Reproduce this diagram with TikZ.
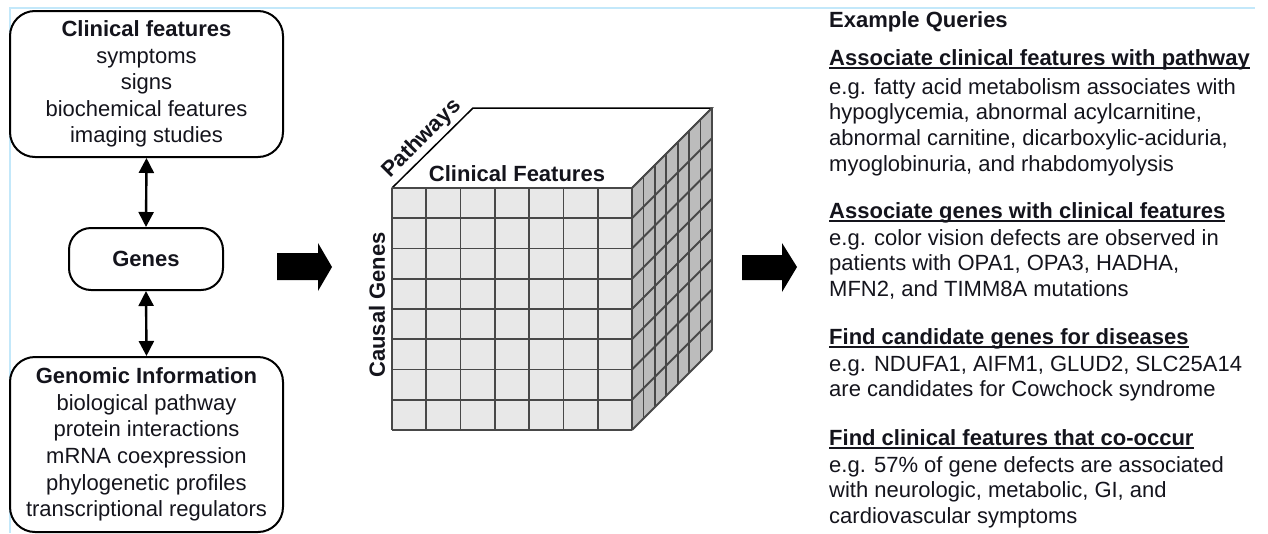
\documentclass[tikz,border=0pt]{standalone}
\usepackage{fontspec}
\setmainfont{Liberation Sans}
\usetikzlibrary{arrows.meta}
\definecolor{frontgray}{RGB}{232,232,232}
\definecolor{sidegray}{RGB}{188,188,188}
\definecolor{gridc}{RGB}{72,72,72}
\definecolor{bluel}{RGB}{195,232,250}
\definecolor{txt}{RGB}{20,20,28}
\newcommand\ulhead[1]{\setbox0\hbox{\bfseries #1}\rlap{\rule[-4pt]{\wd0}{1.7pt}}\box0}
\begin{document}
\begin{tikzpicture}[x=1pt,y=-1pt,
  every node/.style={text=txt},
  roundbox/.style={draw=black, line width=2pt, rounded corners=25pt, align=center,
    font=\fontsize{22}{26.6}\selectfont, inner sep=0pt},
  dbl/.style={line width=2.4pt, {Triangle[length=15pt,width=15pt]}-{Triangle[length=15pt,width=15pt]}},
  gridline/.style={draw=gridc, line width=1.8pt},
  rtext/.style={anchor=base west, align=left, font=\fontsize{22}{25.8}\selectfont, inner sep=0pt},
  cubelabel/.style={font=\fontsize{22}{26}\bfseries\selectfont, inner sep=0pt}
]
\useasboundingbox (0,0) rectangle (1268,533);
% light blue frame lines
\draw[bluel, line width=2.5pt] (10,533) -- (10,8) -- (1255,8);

% left boxes
\node[roundbox, minimum width=273pt, minimum height=146pt] (clin) at (146.5,84)
  {\textbf{Clinical features}\\symptoms\\signs\\biochemical features\\imaging studies};
\node[roundbox, rounded corners=22pt, minimum width=154pt, minimum height=62pt] (genes) at (146,259)
  {\textbf{Genes}};
\node[roundbox, minimum width=273pt, minimum height=175pt] (geno) at (146.5,444.5)
  {\textbf{Genomic Information}\\biological pathway\\protein interactions\\mRNA coexpression\\phylogenetic profiles\\transcriptional regulators};
\draw[dbl] (clin.south) -- (genes.north);
\draw[dbl] (genes.south) -- (geno.north);

% block arrows
\fill[black] (277,253) -- (318,253) -- (318,243) -- (332,267) -- (318,291) -- (318,280) -- (277,280) -- cycle;
\fill[black] (742,255) -- (782,255) -- (782,243) -- (797,267) -- (782,292) -- (782,280) -- (742,280) -- cycle;

% cube: top face
\fill[white] (392,188) -- (473,108) -- (712,108) -- (632,188) -- cycle;
\draw[black, line width=1.5pt, line join=miter] (392,188) -- (473,108) -- (712,108) -- (632,188);
% front face
\fill[frontgray] (392,188) rectangle (632,430);
\foreach \i in {0,...,7} {\draw[gridline] ({392+\i*240/7},188) -- ({392+\i*240/7},430);}
\foreach \j in {0,...,8} {\draw[gridline] (392,{188+\j*242/8}) -- (632,{188+\j*242/8});}
% right face
\fill[sidegray] (632,188) -- (712,108) -- (712,350) -- (632,430) -- cycle;
\foreach \k in {0,...,7} {\draw[gridline] ({632+\k*80/7},{188-\k*80/7}) -- ({632+\k*80/7},{430-\k*80/7});}
\foreach \j in {0,...,8} {\draw[gridline] (632,{188+\j*242/8}) -- (712,{108+\j*242/8});}

\node[cubelabel, rotate=45] (pw) at (422,139) {Pathways};
\node[cubelabel] (cf) at (517,174) {Clinical Features};
\node[cubelabel, rotate=90] (cg) at (377,305) {Causal Genes};

% right text (base anchor = baseline of last line)
\node[rtext] (eq) at (829,27) {\textbf{Example Queries}};
\node[rtext] (h1) at (829,65) {\ulhead{Associate clinical features with pathway}};
\node[rtext] (b1) at (829,171.4) {e.g. fatty acid metabolism associates with\\hypoglycemia, abnormal acylcarnitine,\\abnormal carnitine, dicarboxylic-aciduria,\\myoglobinuria, and rhabdomyolysis};
\node[rtext] (h2) at (829,218) {\ulhead{Associate genes with clinical features}};
\node[rtext] (b2) at (829,296.6) {e.g. color vision defects are observed in\\patients with OPA1, OPA3, HADHA,\\MFN2, and TIMM8A mutations};
\node[rtext] (h3) at (829,344) {\ulhead{Find candidate genes for diseases}};
\node[rtext] (b3) at (829,396.8) {e.g. NDUFA1, AIFM1, GLUD2, SLC25A14\\are candidates for Cowchock syndrome};
\node[rtext] (h4) at (829,445) {\ulhead{Find clinical features that co-occur}};
\node[rtext] (b4) at (829,523.6) {e.g. 57\% of gene defects are associated\\with neurologic, metabolic, GI, and\\cardiovascular symptoms};
\end{tikzpicture}
\end{document}
